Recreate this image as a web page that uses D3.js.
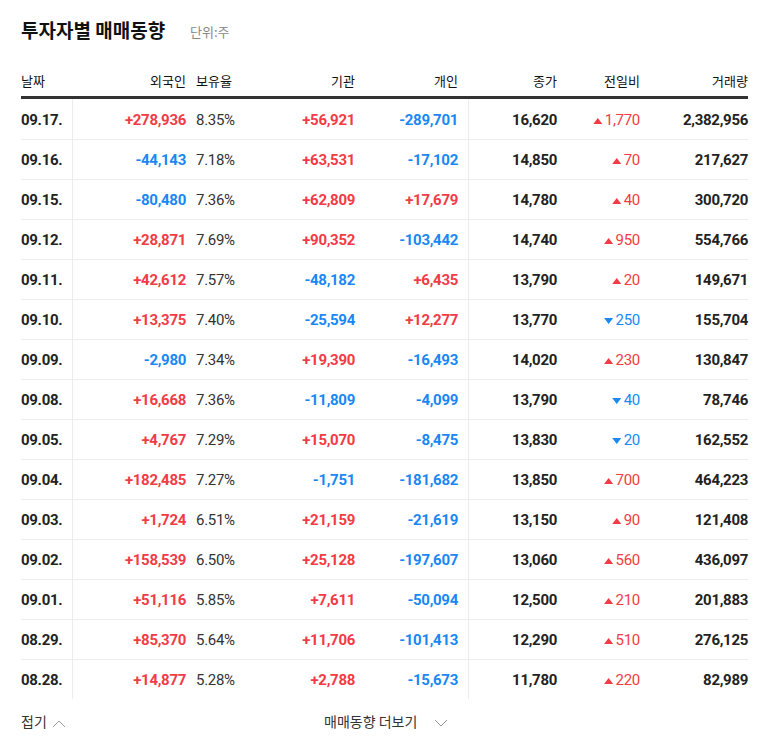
<!DOCTYPE html>
<html><head><meta charset="utf-8">
<script src="https://cdn.jsdelivr.net/npm/d3@7"></script>
<style>body{margin:0;background:#fff}svg{font-family:"Noto Sans CJK KR","Noto Sans",sans-serif}</style>
</head><body><svg id="c" width="768" height="749"></svg>
<script>
// data
const dates = ['09.17.','09.16.','09.15.','09.12.','09.11.','09.10.','09.09.','09.08.','09.05.','09.04.','09.03.','09.02.','09.01.','08.29.','08.28.'];
const foreign = [278936,-44143,-80480,28871,42612,13375,-2980,16668,4767,182485,1724,158539,51116,85370,14877];
const holdRate = ['8.35%','7.18%','7.36%','7.69%','7.57%','7.40%','7.34%','7.36%','7.29%','7.27%','6.51%','6.50%','5.85%','5.64%','5.28%'];
const inst = [56921,63531,62809,90352,-48182,-25594,19390,-11809,15070,-1751,21159,25128,7611,11706,2788];
const indiv = [-289701,-17102,17679,-103442,6435,12277,-16493,-4099,-8475,-181682,-21619,-197607,-50094,-101413,-15673];
const close = [16620,14850,14780,14740,13790,13770,14020,13790,13830,13850,13150,13060,12500,12290,11780];
const change = [1770,70,40,950,20,-250,230,-40,-20,700,90,560,210,510,220];
const volume = [2382956,217627,300720,554766,149671,155704,130847,78746,162552,464223,121408,436097,201883,276125,82989];
const headers = [['날짜',21,'start'],['외국인',186,'end'],['보유율',196,'start'],['기관',355,'end'],['개인',458,'end'],['종가',557,'end'],['전일비',640,'end'],['거래량',748,'end']];

const svg = d3.select('#c');
const RED = '#f23b45', BLUE = '#1a87f5', DARK = '#222';
const fmt = d3.format(',');
const sfmt = v => (v > 0 ? '+' : '-') + fmt(Math.abs(v));
const col = v => v > 0 ? RED : BLUE;

svg.append('text').attr('x', 21).attr('y', 38).attr('font-size', 19).attr('font-weight', 700).attr('fill', '#111').text('투자자별 매매동향');
svg.append('text').attr('x', 190).attr('y', 37).attr('font-size', 13).attr('fill', '#888').text('단위:주');

svg.selectAll('.h').data(headers).join('text')
  .attr('x', d => d[1]).attr('y', 86).attr('text-anchor', d => d[2])
  .attr('font-size', 13).attr('fill', '#111').text(d => d[0]);
svg.append('rect').attr('x', 21).attr('y', 96).attr('width', 727).attr('height', 3).attr('fill', '#333');

const y = d3.scaleBand().domain(d3.range(dates.length)).range([99, 699]);
svg.selectAll('.sep').data(d3.range(1, dates.length)).join('line')
  .attr('x1', 21).attr('x2', 748).attr('y1', i => y(i) + 0.5).attr('y2', i => y(i) + 0.5)
  .attr('stroke', '#ececec');
[72.5, 468.5].forEach(x => svg.append('line').attr('x1', x).attr('x2', x).attr('y1', 99).attr('y2', 699).attr('stroke', '#ececec'));

const rows = svg.selectAll('.row').data(dates).join('g')
  .attr('transform', (d, i) => `translate(0,${y(i) + y.bandwidth() / 2 + 6})`)
  .attr('font-size', 15);
const cell = (x, anchor, txt, fill, w) => rows.append('text').attr('x', x).attr('text-anchor', anchor)
  .attr('fill', fill).attr('font-weight', w).attr('font-family', 'Roboto, "Liberation Sans", sans-serif')
  .attr('letter-spacing', '-0.3').text(txt);

cell(21, 'start', d => d, DARK, 700);
cell(186, 'end', (d, i) => sfmt(foreign[i]), (d, i) => col(foreign[i]), 700);
cell(196, 'start', (d, i) => holdRate[i], '#333', 400);
cell(355, 'end', (d, i) => sfmt(inst[i]), (d, i) => col(inst[i]), 700);
cell(458, 'end', (d, i) => sfmt(indiv[i]), (d, i) => col(indiv[i]), 700);
cell(557, 'end', (d, i) => fmt(close[i]), DARK, 700);
cell(640, 'end', (d, i) => fmt(Math.abs(change[i])), (d, i) => col(change[i]), 400);
cell(748, 'end', (d, i) => fmt(volume[i]), DARK, 700);

// triangles for 전일비
rows.each(function(d, i) {
  const g = d3.select(this);
  const w = this.querySelectorAll('text')[6].getComputedTextLength();
  const cx = 640 - w - 7;
  const up = change[i] > 0;
  const pts = up ? [[cx - 4.5, -1], [cx + 4.5, -1], [cx, -7]] : [[cx - 4.5, -7], [cx + 4.5, -7], [cx, -1]];
  g.append('path').attr('d', d3.line()(pts) + 'Z').attr('fill', col(change[i]));
});

svg.append('text').attr('x', 21).attr('y', 727).attr('font-size', 14).attr('fill', '#333').text('접기');
svg.append('path').attr('d', 'M53,727 L59,721 L65,727').attr('fill', 'none').attr('stroke', '#999');
svg.append('text').attr('x', 324).attr('y', 727).attr('font-size', 14).attr('fill', '#333').text('매매동향 더보기');
svg.append('path').attr('d', 'M435,720 L441,726 L447,720').attr('fill', 'none').attr('stroke', '#999');
</script></body></html>
